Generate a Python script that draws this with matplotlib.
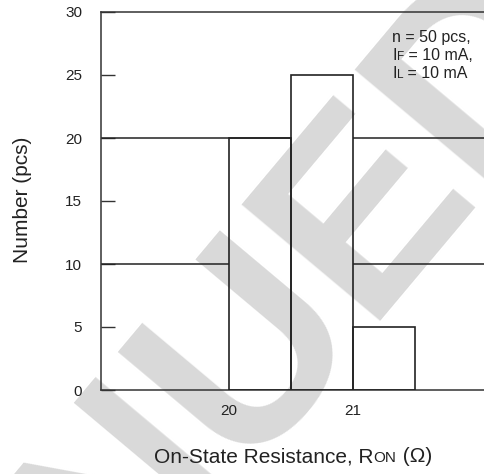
import matplotlib
matplotlib.use("Agg")
import matplotlib.pyplot as plt
from matplotlib.offsetbox import TextArea, HPacker, VPacker, AnnotationBbox

plt.rcParams["font.family"] = ["Liberation Sans", "DejaVu Sans"]

# histogram data
bin_left = [20.0, 20.5, 21.0]
counts = [20, 25, 5]
bin_width = 0.5
grid_levels = [10, 20]
y_ticks = [0, 5, 10, 15, 20, 25, 30]
x_ticks = [20, 21]
x_labels = ["20", "21"]
note_lines = [[("n = 50 pcs,", 11.5)],
              [("I", 11.5), ("F", 8.5), (" = 10 mA,", 11.5)],
              [("I", 11.5), ("L", 8.5), (" = 10 mA", 11.5)]]

ink = "#222222"
W, H = 484, 474

fig = plt.figure(figsize=(W / 100, H / 100), dpi=100)
ax = fig.add_axes([101 / W, 84 / H, 383 / W, 378 / H])
ax.set_xlim(18.97, 22.06)
ax.set_ylim(0, 30)

# watermark: behind the lines and labels, over the white background
ax.text(599 / W, 1 - 39 / H, "DISCONTINUED", transform=fig.transFigure,
        fontsize=190, fontweight="bold", color="#d9d9d9", rotation=50,
        rotation_mode="anchor", ha="right", va="baseline", clip_on=False, zorder=1)

ax.bar(bin_left, counts, width=bin_width, align="edge", fill=False,
       edgecolor=ink, linewidth=1.2, zorder=3)

# grid lines only where no bar stands above them
xmin, xmax = ax.get_xlim()
for g in grid_levels:
    covered = sorted((l, l + bin_width) for l, c in zip(bin_left, counts) if c > g)
    start = xmin
    for a, b in covered:
        if a > start:
            ax.hlines(g, start, a, color=ink, linewidth=1.1, zorder=2)
        start = max(start, b)
    if start < xmax:
        ax.hlines(g, start, xmax, color=ink, linewidth=1.1, zorder=2)

ax.patch.set_alpha(0)
ax.spines["right"].set_visible(False)
for s in ["top", "left", "bottom"]:
    ax.spines[s].set_color("#333333")
    ax.spines[s].set_linewidth(1.1)

ax.set_yticks(y_ticks)
ax.set_xticks(x_ticks)
ax.set_xticklabels(x_labels)
ax.tick_params(axis="y", direction="in", length=10, width=1, color="#333333",
               pad=13.5, labelsize=11, labelcolor=ink)
ax.tick_params(axis="x", length=0, pad=10, labelsize=11, labelcolor=ink)

fig.text(23 / W, 1 - 200 / H, "Number (pcs)", rotation=90, fontsize=15,
         color=ink, ha="center", va="center")

# x label with the small-caps "ON" subscript
xl = HPacker(children=[TextArea("On-State Resistance, R", textprops=dict(size=15, color=ink)),
                       TextArea("ON", textprops=dict(size=11, color=ink)),
                       TextArea(" (\u03a9)", textprops=dict(size=15, color=ink))],
             align="baseline", pad=0, sep=0)
fig.add_artist(AnnotationBbox(xl, (293 / W, 1 - 457 / H), xycoords="figure fraction",
                              frameon=False, box_alignment=(0.5, 0.5)))

# test conditions note
rows = []
for line in note_lines:
    rows.append(HPacker(children=[TextArea(t, textprops=dict(size=s, color=ink)) for t, s in line],
                        align="baseline", pad=0, sep=0))
note = VPacker(children=rows, align="left", pad=0, sep=2)
fig.add_artist(AnnotationBbox(note, (392 / W, 1 - 30 / H), xycoords="figure fraction",
                              frameon=False, box_alignment=(0, 1)))

fig.savefig("out.png", dpi=100)
